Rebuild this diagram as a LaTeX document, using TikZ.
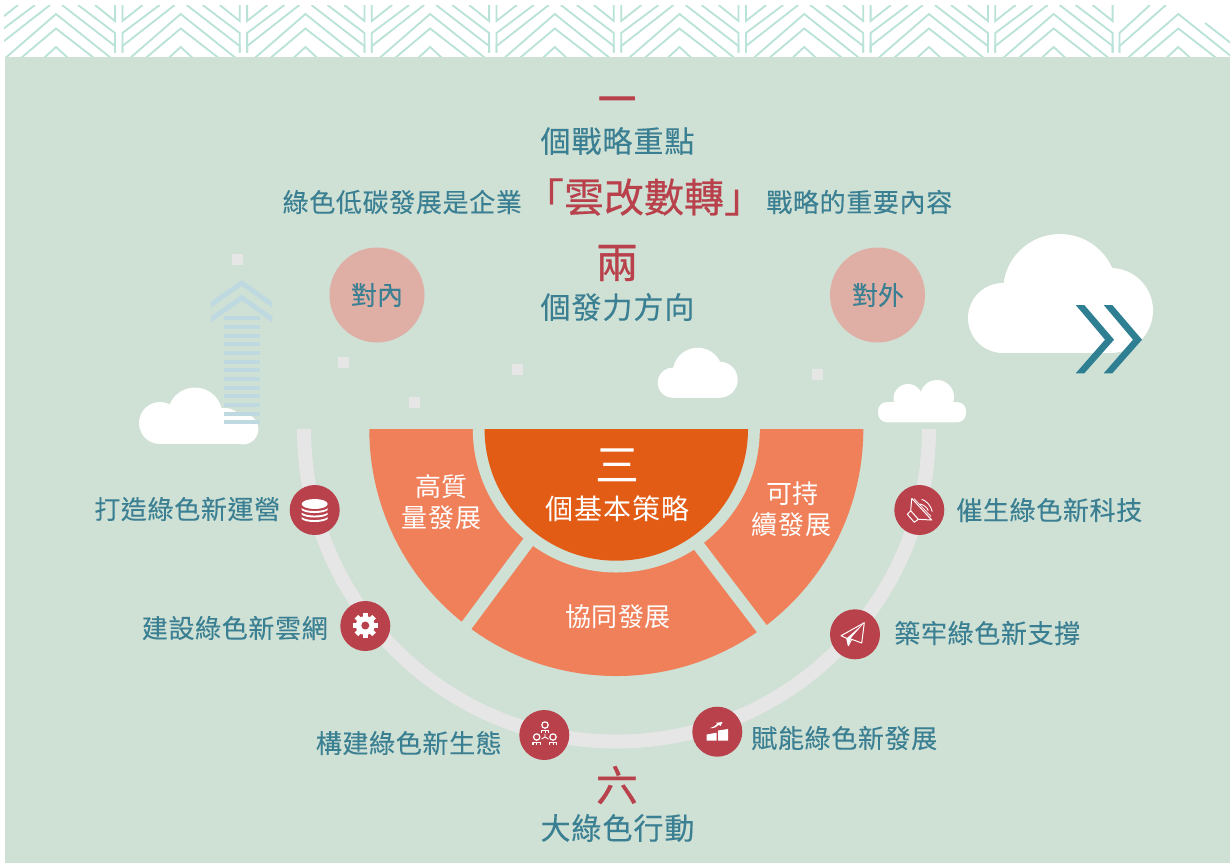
\documentclass[tikz,border=0pt]{standalone}
\usepackage{fontspec}
\setmainfont{Noto Sans CJK TC}
\definecolor{panel}{HTML}{CFE0D5}
\definecolor{patline}{HTML}{B9E2D8}
\definecolor{teal}{HTML}{3A7F92}
\definecolor{tealdk}{HTML}{2F7F93}
\definecolor{crim}{HTML}{B8414B}
\definecolor{pinkc}{HTML}{DFAFA6}
\definecolor{orange1}{HTML}{EF805A}
\definecolor{orange2}{HTML}{E25C15}
\definecolor{ringc}{HTML}{E6E6E6}
\definecolor{barc}{HTML}{BFD9E0}
\newcommand{\fsz}[3]{\fontsize{#1}{#1}\selectfont\addfontfeature{LetterSpace=#2,FakeBold=#3}}
\tikzset{
  every node/.style={inner sep=0pt,outer sep=0pt,align=center},
  headtxt/.style={text=teal,font=\fsz{30}{3.3}{0.15}},
  subtxt/.style={text=teal,font=\fsz{26}{2.5}{0.1}},
  bigred/.style={text=crim,font=\fsz{40}{0}{0.5}},
  singlered/.style={text=crim,font=\fsz{42}{0}{0.8}},
  pinktxt/.style={text=teal,font=\fsz{26}{0}{0.1}},
  whitetxt/.style={text=white,font=\fsz{26}{2.5}{0}},
  icondisc/.style={circle,fill=crim,minimum size=50pt},
  pinkdisc/.style={circle,fill=pinkc,minimum size=95pt},
  sq/.style={fill=ringc,minimum size=11pt},
  pat/.style={draw=patline,line width=1.8pt},
  ico/.style={draw=white,line width=1pt,line join=round},
  cloudfill/.style={fill=white},
}
\begin{document}
\begin{tikzpicture}[x=1pt,y=-1pt]
\useasboundingbox (0,0) rectangle (1230,863);
\fill[white] (0,0) rectangle (1230,863);
% pattern
\begin{scope}
\clip (4,5) rectangle (1230,57);
\foreach \i in {0,...,9}{
  \begin{scope}[xshift=\i*124.7pt]
    \draw[pat] (6,57.5) -- (56,14) -- (111,58);
    \draw[pat] (21,58) -- (56,28.5) -- (94,58);
    \draw[pat] (44,58) -- (56,47) -- (68,58);
  \end{scope}
}
\foreach \i in {0,...,8}{
  \begin{scope}[xshift=\i*124.7pt]
    \draw[pat] (62,5) -- (115,46) -- (115,52.5);
    \draw[pat] (78,5) -- (115,33) -- (115,52.5);
    \draw[pat] (95,5) -- (115,21) -- (115,5);
    \draw[pat] (50,5) -- (-2.3,46) -- (-2.3,52.5);
    \draw[pat] (35,5) -- (-2.3,33) -- (-2.3,52.5);
    \draw[pat] (18,5) -- (-2.3,21) -- (-2.3,5);
  \end{scope}
}
\draw[pat] (1166,5) -- (1119.5,46) -- (1119.5,52.5);
\draw[pat] (1150,5) -- (1119.5,33) -- (1119.5,52.5);
\draw[pat] (1205,23) -- (1232,44);
\end{scope}
% panel
\fill[panel] (4.5,57) rectangle (1230,863);
% small squares
\node[sq] (s1) at (237.5,259.5) {};
\node[sq] (s2) at (343.5,362.5) {};
\node[sq] (s3) at (517.5,369.5) {};
\node[sq] (s4) at (414.5,402.5) {};
\node[sq] (s5) at (817.5,374.5) {};
% clouds
\foreach \cx/\cy/\cr in {160/423/21,195/415/27.5,225/426/18,243/429/15.4,
  672.7/382.7/15,697.7/372.7/25,719.7/379.7/18,
  908/398.5/14.5,937/397/17,
  1003/318/35,1060/291/57,1110.5/310.5/42.5}{
  \fill[cloudfill] (\cx,\cy) circle[radius=\cr];
}
\fill[cloudfill] (160,418) rectangle (243,444.4);
\fill[cloudfill] (672.7,372) rectangle (720,397.7);
\fill[cloudfill,rounded corners=9pt] (878,402) rectangle (966,422.3);
\fill[cloudfill] (1003,300) rectangle (1110.5,353);
% up arrow
\foreach \yy in {0,14.7}{
  \fill[barc] (211,301.7+\yy) -- (241.7,280+\yy) -- (272.3,301.7+\yy) -- (272.3,307.7+\yy) -- (241.7,286+\yy) -- (211,307.7+\yy) -- cycle;
}
\foreach \yy in {318,327,336,344,353,362,370,379,388,396,405,414,422}{
  \fill[barc] (224,\yy-2) rectangle (260,\yy+2);
}
% right chevrons
\foreach \xx in {0,28}{
  \fill[tealdk] (1075.7+\xx,305) -- (1084.3+\xx,305) -- (1114+\xx,339.7) -- (1084.3+\xx,373.3) -- (1075.7+\xx,373.3) -- (1105+\xx,339.7) -- cycle;
}
% half discs and ring
\begin{scope}
\clip (280,429) rectangle (960,770);
\draw[ringc,line width=14pt] (616.5,429) circle[radius=312.5];
\fill[orange1] (616.3,429) circle[radius=247];
\fill[panel] (616.3,429) circle[radius=143.5];
\draw[panel,line width=12pt] (531,538.5) -- (455,641);
\draw[panel,line width=12pt] (695,541) -- (775,646);
\fill[orange2] (616.3,429) circle[radius=131.7];
\end{scope}
% pink discs
\node[pinkdisc] (dleft) at (377,295) {};
\node[pinkdisc] (dright) at (877.5,295) {};
\node[pinktxt] (tleft) at (377,295) {對內};
\node[pinktxt] (tright) at (878,295) {對外};
% headings
\node[singlered,font=\fsz{38}{0}{2}] (one) at (617,105) {一};
\node[headtxt] (h1) at (617.5,141) {個戰略重點};
\node[subtxt] (l1) at (402.3,202) {綠色低碳發展是企業};
\node[bigred] (c1) at (644,197) {「雲改數轉」};
\node[subtxt] (r1) at (859.3,202) {戰略的重要內容};
\node[singlered] (two) at (617,263) {兩};
\node[headtxt] (h2) at (617.5,307) {個發力方向};
% centre texts
\node[text=white,font=\fsz{44}{0}{0}] (three) at (617.5,465) {三};
\node[text=white,font=\fsz{28}{3.5}{0}] (h3) at (617.5,509) {個基本策略};
\node[whitetxt] (a1) at (441.5,487) {高質};
\node[whitetxt] (a2) at (441.5,518) {量發展};
\node[whitetxt] (b1) at (792.5,494) {可持};
\node[whitetxt] (b2) at (791.5,525) {續發展};
\node[whitetxt] (cc) at (618,617) {協同發展};
% icon discs
\node[icondisc] (i1) at (314.7,510) {};
\node[icondisc] (i2) at (365.3,626) {};
\node[icondisc] (i3) at (544.3,735) {};
\node[icondisc] (i4) at (717.3,731.7) {};
\node[icondisc] (i5) at (855,634.3) {};
\node[icondisc] (i6) at (919.3,510) {};
% database icon
\fill[white] (314.7,504) ellipse[x radius=13,y radius=5];
\foreach \yy in {510,514.5,519}{
  \fill[white] (301.7,\yy-1.8) .. controls (306,\yy+2) and (323,\yy+2) .. (327.7,\yy-1.8)
    -- (327.7,\yy) .. controls (323,\yy+4) and (306,\yy+4) .. (301.7,\yy) -- cycle;
}
% gear icon
\begin{scope}[shift={(365.3,625.5)}]
\fill[white] (0,0) circle[radius=9.5];
\foreach \a in {0,45,...,315}{
  \fill[white,rotate=\a] (-2.6,-12.5) rectangle (2.6,-8.5);
}
\fill[crim] (0,0) circle[radius=4];
\end{scope}
% people icon
\foreach \px/\py in {545/725,536.7/737,553/737}{
  \draw[ico,line width=1.2pt] (\px,\py) circle[radius=3.2];
  \draw[ico,line width=1.2pt] (\px-3.8,\py+8) -- (\px-3.8,\py+5.5) -- (\px+3.8,\py+5.5) -- (\px+3.8,\py+8);
  \draw[ico,line width=.9pt] (\px,\py+5.5) -- (\px,\py+8);
}
\draw[ico,line width=.9pt] (545,733.5) -- (545,737) (541.5,739) -- (545,737) -- (548.5,739);
% chart icon
\fill[white] (706.7,734.5) -- (716.7,732.7) -- (716.7,740.7) -- (706.7,740.7) -- cycle;
\fill[white] (718,730.5) -- (728,729) -- (728,740.7) -- (718,740.7) -- cycle;
\fill[white] (710,728) .. controls (714,727) and (716,725) .. (717.5,723.5) -- (715.5,722.8) -- (722.5,722) -- (720.5,726)
  -- (719,724.8) .. controls (717,727) and (714,728.5) .. (710,728) -- cycle;
% plane icon
\draw[ico] (864.3,622.7) -- (841,635.7) -- (846.7,638.3) -- (848.3,645.7) -- (851.7,639.3) -- (861.7,643) -- cycle;
\fill[white] (864.3,622.7) -- (846.7,638.3) -- (848.3,645.7) -- (851.7,637) -- cycle;
% speaker icon
\draw[ico] (911.7,498.3) -- (931.7,520) -- (918.3,519.3) (911.7,498.3) -- (910.7,510.7);
\draw[ico] (907.3,514.3) -- (914.3,522.3) -- (918.3,519.3) -- (910.7,510.7) -- cycle;
\draw[ico,line width=.7pt] (914,498.5) -- (931,516.5);
\draw[ico,line width=.9pt] (921.7,499.3) .. controls (927,501) and (931,506) .. (932.3,511.7);
\draw[ico,line width=.9pt] (920,504) .. controls (924,505) and (927,507) .. (928.3,510.7);
% labels
\node[subtxt] (t1) at (187.3,509) {打造綠色新運營};
\node[subtxt] (t2) at (234.8,628) {建設綠色新雲網};
\node[subtxt] (t3) at (408.8,743) {構建綠色新生態};
\node[subtxt] (t4) at (844.3,738) {賦能綠色新發展};
\node[subtxt] (t5) at (987.3,633) {築牢綠色新支撐};
\node[subtxt] (t6) at (1049.3,510) {催生綠色新科技};
\node[singlered] (six) at (617,785) {六};
\node[headtxt] (h6) at (617.5,828) {大綠色行動};
\end{tikzpicture}
\end{document}
